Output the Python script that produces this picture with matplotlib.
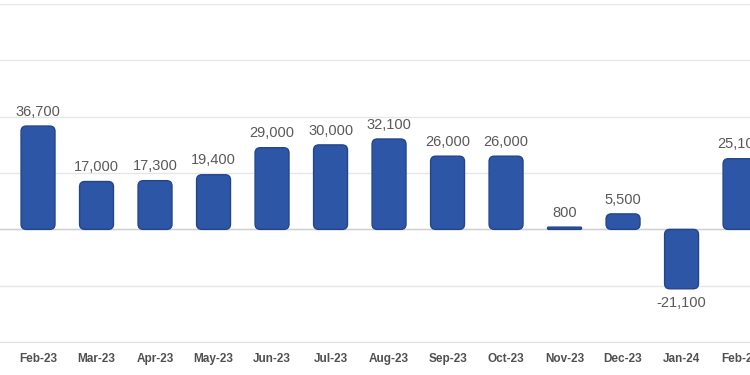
import matplotlib.pyplot as plt
from matplotlib.patches import FancyBboxPatch

months = ['Feb-23', 'Mar-23', 'Apr-23', 'May-23', 'Jun-23', 'Jul-23', 'Aug-23',
          'Sep-23', 'Oct-23', 'Nov-23', 'Dec-23', 'Jan-24', 'Feb-24']
jobs = [36700, 17000, 17300, 19400, 29000, 30000, 32100,
        26000, 26000, 800, 5500, -21100, 25100]

fig = plt.figure(figsize=(7.5, 3.75), dpi=100)
ax = fig.add_axes([0, 0.088, 1, 0.901])

x = list(range(len(months)))
bars = ax.bar(x, jobs, width=0.58, color='none', edgecolor='none')

ax.set_xlim(-0.65, 12.17)
ax.set_ylim(-40000, 80000)

# pixel scale for rounded corners
px_x = 12.82 / 750
px_y = 120000 / (0.901 * 375)
for b, v in zip(bars, jobs):
    x0, w = b.get_x(), b.get_width()
    h = abs(v)
    y0 = min(0, v)
    r = min(0.09, h / px_y * px_x / 2.2) if h > 0 else 0
    p = FancyBboxPatch((x0 + r, y0 + r * px_y / px_x), w - 2 * r,
                       max(h - 2 * r * px_y / px_x, 0),
                       boxstyle='round,pad=%f,rounding_size=%f' % (r, r),
                       mutation_aspect=px_y / px_x,
                       facecolor='#2E56A6', edgecolor='#22448A', linewidth=1.0,
                       zorder=3)
    ax.add_patch(p)
    if v >= 0:
        ax.text(b.get_x() + w / 2, v + 2600, f'{v:,}', ha='center', va='bottom',
                fontsize=10.5, color='#595959', family='Liberation Sans')
    else:
        ax.text(b.get_x() + w / 2, v - 2600, f'{v:,}', ha='center', va='top',
                fontsize=10.5, color='#595959', family='Liberation Sans')

ax.set_yticks(range(-40000, 80001, 20000))
ax.yaxis.grid(True, color='#e6e6e6', linewidth=1)
ax.axhline(0, color='#d0d0d0', linewidth=1, zorder=2)
ax.set_axisbelow(True)
ax.tick_params(axis='y', left=False, labelleft=False)
ax.tick_params(axis='x', length=0, pad=8)
ax.set_xticks(x)
ax.set_xticklabels(months, fontsize=8.5, color='#505050', fontweight='bold',
                   family='Liberation Sans')
for s in ax.spines.values():
    s.set_visible(False)
ax.spines['bottom'].set_visible(True)
ax.spines['bottom'].set_color('#e0e0e0')

fig.savefig('out.png', dpi=100)
